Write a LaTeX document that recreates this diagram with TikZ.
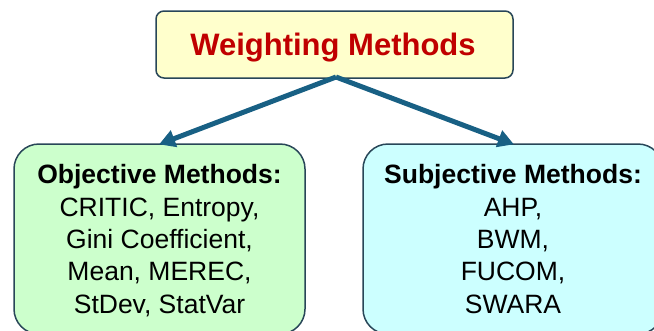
\documentclass[tikz,border=0pt]{standalone}
\usepackage{fontspec}
\setmainfont{Liberation Sans}
\usetikzlibrary{arrows.meta}
\definecolor{boxline}{RGB}{40,70,88}
\definecolor{titlered}{RGB}{192,0,0}
\definecolor{arrowblue}{RGB}{24,96,132}
\definecolor{paleyellow}{RGB}{255,255,204}
\definecolor{palegreen}{RGB}{204,255,204}
\definecolor{palecyan}{RGB}{204,255,255}
\tikzset{
  panel/.style={draw=boxline, line width=1.5bp, inner sep=0pt, outer sep=0pt},
  label/.style={inner sep=0pt, align=center, font=\fontsize{26.5bp}{32.3bp}\selectfont},
  link/.style={draw=arrowblue, line width=5bp, -{Triangle[length=16bp,width=17bp]}, shorten >=-1bp}
}
\begin{document}
\begin{tikzpicture}[x=1bp,y=-1bp]
  \useasboundingbox (0,0) rectangle (654,330);
  \begin{scope}
    \clip (0,0) rectangle (654,330);
    % top box
    \node[panel, fill=paleyellow, rounded corners=8bp, minimum width=357bp, minimum height=67bp] (top) at (334.5,44.5) {};
    \node[label, text=titlered, font=\fontsize{31bp}{36bp}\selectfont\bfseries, anchor=base] (toptext) at (333,55) {Weighting Methods};
    % lower boxes
    \node[panel, fill=palegreen, rounded corners=25bp, minimum width=291bp, minimum height=190bp, anchor=north west] (obj) at (14,144) {};
    \node[panel, fill=palecyan, rounded corners=25bp, minimum width=300bp, minimum height=190bp, anchor=north west] (subj) at (363,144) {};
    % multi-line labels: the base anchor sits on the last line
    \node[label, anchor=base] (objtext) at (159.5,313) {\textbf{Objective Methods:}\\CRITIC, Entropy,\\Gini Coefficient,\\Mean, MEREC,\\StDev, StatVar};
    \node[label, anchor=base] (subjtext) at (513,313) {\textbf{Subjective Methods:}\\AHP,\\BWM,\\FUCOM,\\SWARA};
    % connectors
    \coordinate (fork) at (336,77);
    \coordinate (objin) at (160,144);
    \coordinate (subjin) at (513,144);
    \draw[link] (fork) -- (objin);
    \draw[link] (fork) -- (subjin);
  \end{scope}
\end{tikzpicture}
\end{document}
